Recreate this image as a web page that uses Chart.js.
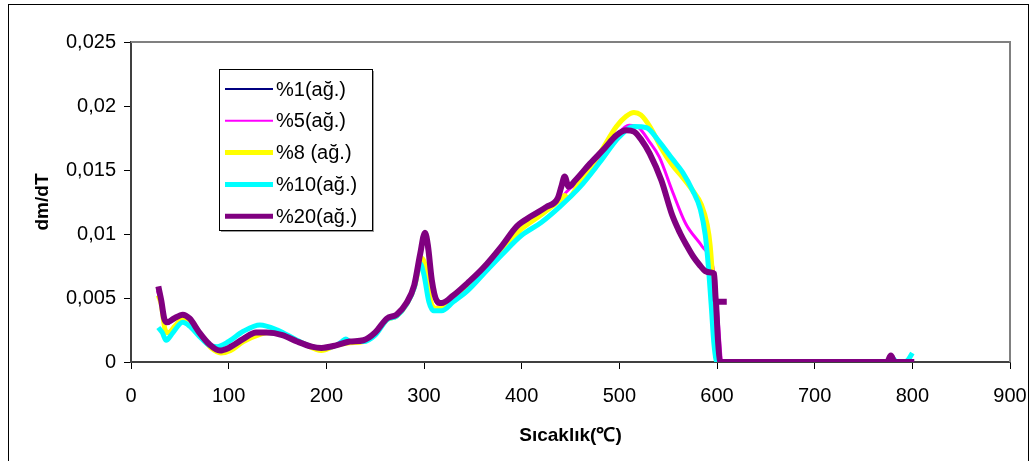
<!DOCTYPE html>
<html>
<head>
<meta charset="utf-8">
<script src="https://cdn.jsdelivr.net/npm/chart.js@4/dist/chart.umd.min.js"></script>
<style>
  body { margin: 0; background: #fff; }
  #frame { position: absolute; left: 8px; top: 4px; width: 1019px; height: 470px; border: 1px solid #000; }
  #wrap { position: absolute; left: 0; top: 0; width: 1032px; height: 461px; }
</style>
</head>
<body>
<div id="frame"></div>
<div id="wrap"><canvas id="chart" width="1032" height="461"></canvas></div>
<script>
// series names
const seriesNames = ['%1(ağ.)', '%5(ağ.)', '%8 (ağ.)', '%10(ağ.)', '%20(ağ.)'];

// %1 (ağ.) - mostly hidden under %20
const t1 = [28, 31, 34, 37, 44, 53, 60, 70, 80, 91, 100, 115, 128, 139, 155, 170, 185, 195, 210, 224, 238, 250, 262, 272, 282, 290, 296, 301, 304, 308, 313, 318, 330, 345, 360, 380, 395, 410, 425, 437, 441, 444, 448, 455, 470, 485, 497, 507, 515, 523, 531, 543, 554, 562, 569, 576, 582, 588, 594, 597, 599, 601, 603, 606, 700, 800];
const v1 = [0.0058, 0.0048, 0.0034, 0.0031, 0.0034, 0.0037, 0.0034, 0.0023, 0.0014, 0.0009, 0.0011, 0.0018, 0.0023, 0.0023, 0.0021, 0.0016, 0.0012, 0.0011, 0.0013, 0.0016, 0.0017, 0.0023, 0.0034, 0.0037, 0.0046, 0.0060, 0.0084, 0.0100, 0.0091, 0.0064, 0.0048, 0.0046, 0.0052, 0.0062, 0.0073, 0.0091, 0.0106, 0.0114, 0.0121, 0.0128, 0.0138, 0.0144, 0.0137, 0.0142, 0.0155, 0.0167, 0.0177, 0.0181, 0.0180, 0.0173, 0.0163, 0.0142, 0.0115, 0.0101, 0.0091, 0.0082, 0.0076, 0.0071, 0.0070, 0.0069, 0.0047, 0.0017, 0.0001, 0, 0, 0];

// %5 (ağ.)
const t5 = [27, 30, 34, 37, 44, 53, 60, 70, 80, 91, 100, 115, 128, 139, 155, 170, 185, 195, 210, 224, 238, 250, 262, 272, 282, 290, 296, 300, 304, 308, 313, 318, 330, 345, 360, 380, 400, 420, 440, 446, 460, 480, 497, 510, 520, 530, 541, 554, 568, 585, 595, 599, 602, 605, 612];
const v5 = [0.0056, 0.0048, 0.0033, 0.0030, 0.0033, 0.0036, 0.0034, 0.0023, 0.0014, 0.0009, 0.0011, 0.0018, 0.0023, 0.0023, 0.0021, 0.0016, 0.0012, 0.0011, 0.0013, 0.0016, 0.0017, 0.0023, 0.0034, 0.0037, 0.0046, 0.0060, 0.0085, 0.0095, 0.0085, 0.0060, 0.0046, 0.0044, 0.0050, 0.0060, 0.0071, 0.0089, 0.0104, 0.0116, 0.0127, 0.0133, 0.0142, 0.0160, 0.0177, 0.0185, 0.0183, 0.0173, 0.0160, 0.0134, 0.0108, 0.0090, 0.0077, 0.0056, 0.0025, 0, 0];

// %8 (ağ.)
const t8 = [28, 31, 35, 38, 45, 53, 62, 72, 82, 92, 102, 115, 130, 142, 160, 175, 195, 210, 224, 238, 250, 262, 272, 282, 290, 298, 302, 306, 312, 320, 332, 345, 360, 380, 400, 420, 440, 444, 447, 460, 480, 497, 507, 515, 522, 532, 543, 554, 565, 575, 584, 590, 593, 596, 599, 602, 650, 700, 750, 790];
const v8 = [0.0052, 0.0045, 0.0025, 0.0023, 0.0028, 0.0034, 0.0032, 0.0020, 0.0011, 0.0007, 0.0009, 0.0016, 0.0021, 0.0023, 0.0020, 0.0015, 0.0009, 0.0013, 0.0015, 0.0016, 0.0022, 0.0033, 0.0036, 0.0045, 0.0058, 0.0081, 0.0073, 0.0050, 0.0042, 0.0043, 0.0051, 0.0059, 0.0070, 0.0088, 0.0104, 0.0115, 0.0127, 0.0130, 0.0128, 0.0141, 0.0163, 0.0184, 0.0192, 0.0195, 0.0193, 0.0183, 0.0167, 0.0154, 0.0144, 0.0134, 0.0123, 0.0107, 0.0091, 0.0060, 0.0021, 0, 0, 0, 0, 0];

// %10 (ağ.)
const t10 = [28, 32, 36, 42, 53, 60, 70, 80, 88, 100, 115, 132, 150, 170, 185, 195, 210, 216, 220, 224, 238, 250, 262, 272, 282, 290, 296, 300, 305, 310, 318, 330, 345, 360, 380, 400, 420, 440, 460, 480, 500, 515, 528, 540, 554, 565, 575, 583, 588, 591, 594, 597, 600, 650, 700, 750, 776, 780, 784, 792, 796, 800];
const v10 = [0.0027, 0.0023, 0.0017, 0.0022, 0.0031, 0.0028, 0.0020, 0.0013, 0.0012, 0.0016, 0.0024, 0.0029, 0.0025, 0.0017, 0.0012, 0.0011, 0.0013, 0.0016, 0.0018, 0.0016, 0.0016, 0.0021, 0.0033, 0.0036, 0.0045, 0.0058, 0.0077, 0.0068, 0.0047, 0.0040, 0.0040, 0.0047, 0.0056, 0.0068, 0.0084, 0.0099, 0.0109, 0.0122, 0.0137, 0.0156, 0.0176, 0.0184, 0.0183, 0.0173, 0.0159, 0.0148, 0.0134, 0.0119, 0.0099, 0.0076, 0.0045, 0.0013, 0, 0, 0, 0, 0, 0.0003, 0, 0, 0.0002, 0.0007];

// %20 (ağ.) - null marks the break after the short stub near 600
const t20 = [28, 31, 34, 37, 44, 53, 60, 70, 80, 91, 100, 115, 128, 139, 155, 170, 185, 195, 210, 224, 238, 250, 262, 272, 282, 290, 296, 301, 304, 308, 313, 318, 330, 345, 360, 380, 395, 410, 425, 437, 441, 444, 448, 455, 470, 485, 497, 507, 515, 523, 531, 543, 554, 562, 569, 576, 582, 588, 594, 597, 599, 610, 610, 599, 601, 603, 606, 650, 700, 750, 774, 778, 782, 802];
const v20 = [0.0059, 0.0048, 0.0034, 0.0031, 0.0034, 0.0037, 0.0034, 0.0023, 0.0014, 0.0009, 0.0011, 0.0018, 0.0023, 0.0023, 0.0021, 0.0016, 0.0012, 0.0011, 0.0013, 0.0016, 0.0017, 0.0023, 0.0034, 0.0037, 0.0046, 0.0060, 0.0084, 0.0101, 0.0091, 0.0064, 0.0048, 0.0046, 0.0052, 0.0062, 0.0073, 0.0091, 0.0106, 0.0114, 0.0121, 0.0128, 0.0138, 0.0145, 0.0137, 0.0142, 0.0155, 0.0167, 0.0177, 0.0181, 0.0180, 0.0173, 0.0163, 0.0142, 0.0115, 0.0101, 0.0091, 0.0082, 0.0076, 0.0071, 0.0070, 0.0069, 0.0047, 0.0047, null, 0.0047, 0.0017, 0.0001, 0, 0, 0, 0, 0, 0.0005, 0, 0];

const colors = ['#000080', '#ff00ff', '#ffff00', '#00ffff', '#800080'];
const widths = [2, 3, 5, 5, 6];
const legendWidths = [2, 2, 5, 5, 5];

const pairs = (t, v) => t.map((x, i) => ({ x: x, y: v[i] }));
const allT = [t1, t5, t8, t10, t20];
const allV = [v1, v5, v8, v10, v20];

const datasets = seriesNames.map((name, i) => ({
  label: name,
  data: pairs(allT[i], allV[i]),
  borderColor: colors[i],
  backgroundColor: colors[i],
  borderWidth: widths[i],
  pointRadius: 0,
  fill: false,
  cubicInterpolationMode: 'monotone',
  order: 5 - i
}));

// gray top/right border of the plot area
const plotFrame = {
  id: 'plotFrame',
  beforeDatasetsDraw(chart) {
    const { ctx, chartArea: a } = chart;
    ctx.save();
    ctx.strokeStyle = '#808080';
    ctx.lineWidth = 2;
    ctx.beginPath();
    ctx.moveTo(a.left, a.top);
    ctx.lineTo(a.right, a.top);
    ctx.lineTo(a.right, a.bottom);
    ctx.stroke();
    ctx.restore();
  }
};

// boxed legend inside the plot
const boxLegend = {
  id: 'boxLegend',
  afterDatasetsDraw(chart) {
    const ctx = chart.ctx;
    const x = 219, y = 69, w = 153, h = 161;
    ctx.save();
    ctx.fillStyle = '#9a9a9a';
    ctx.fillRect(x + 2, y + 2, w, h);
    ctx.fillStyle = '#fff';
    ctx.fillRect(x, y, w, h);
    ctx.strokeStyle = '#000';
    ctx.lineWidth = 1;
    ctx.strokeRect(x + 0.5, y + 0.5, w, h);
    ctx.font = '20px "Liberation Sans", Arial, sans-serif';
    ctx.textBaseline = 'middle';
    ctx.fillStyle = '#000';
    chart.data.datasets.forEach((ds, i) => {
      const ry = y + 20 + i * 31.8;
      ctx.strokeStyle = ds.borderColor;
      ctx.lineWidth = legendWidths[i];
      ctx.beginPath();
      ctx.moveTo(x + 6, ry);
      ctx.lineTo(x + 54, ry);
      ctx.stroke();
      ctx.fillText(ds.label, x + 57, ry + 1);
    });
    ctx.restore();
  }
};

const tickFont = { family: '"Liberation Sans", Arial, sans-serif', size: 20 };
const titleFont = { family: '"Liberation Sans", Arial, sans-serif', size: 19, weight: 'bold' };

new Chart(document.getElementById('chart'), {
  type: 'line',
  data: { datasets: datasets },
  options: {
    responsive: false,
    animation: false,
    events: [],
    layout: { padding: { top: 42, right: 22, left: 0, bottom: 0 } },
    plugins: { legend: { display: false }, tooltip: { enabled: false } },
    scales: {
      x: {
        type: 'linear',
        min: 0,
        max: 900,
        afterFit(scale) {
          scale.height = 99;
          scale.paddingLeft = 0;
          scale.paddingRight = 0;
        },
        ticks: { stepSize: 100, font: tickFont, color: '#000', padding: 15, maxRotation: 0 },
        grid: { drawOnChartArea: false, drawTicks: true, tickLength: 7, color: '#000' },
        border: { color: '#404040', width: 2 },
        title: { display: true, text: 'Sıcaklık(℃)', font: titleFont, color: '#000', padding: { top: 0, bottom: 14 } }
      },
      y: {
        min: 0,
        max: 0.025,
        afterFit(scale) {
          scale.width = 131;
          scale.paddingTop = 0;
          scale.paddingBottom = 0;
        },
        ticks: {
          stepSize: 0.005,
          font: tickFont,
          color: '#000',
          padding: 8,
          callback: v => String(Number(v.toFixed(3))).replace('.', ',')
        },
        grid: { drawOnChartArea: false, drawTicks: true, tickLength: 7, color: '#000' },
        border: { color: '#404040', width: 2 },
        title: { display: true, text: 'dm/dT', font: titleFont, color: '#000', padding: { top: 31, bottom: 0 } }
      }
    }
  },
  plugins: [plotFrame, boxLegend]
});
</script>
</body>
</html>
